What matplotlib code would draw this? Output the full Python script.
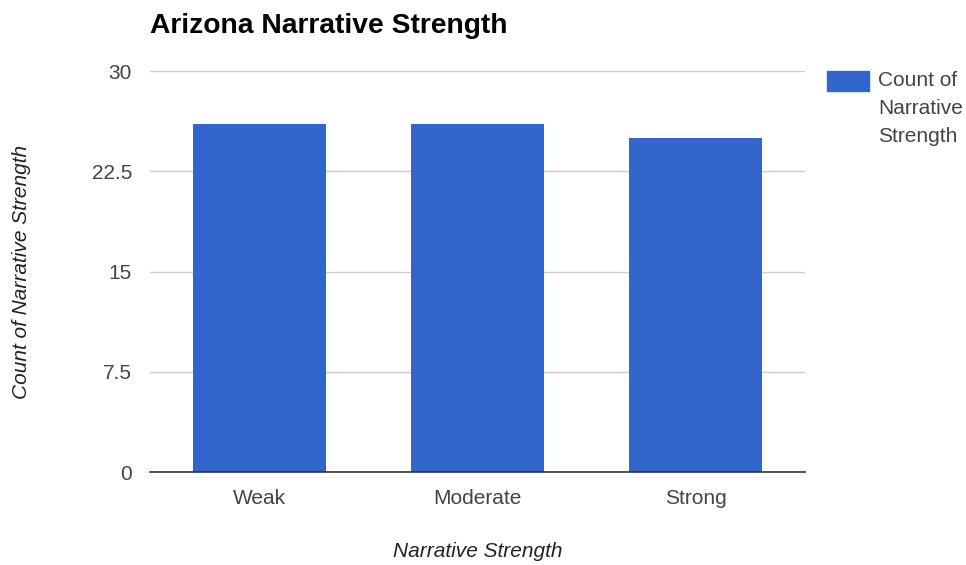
import matplotlib
matplotlib.use("Agg")
import matplotlib.pyplot as plt
import numpy as np

plt.rcParams["font.family"] = ["Liberation Sans", "DejaVu Sans"]

categories = ["Weak", "Moderate", "Strong"]
counts = [26, 26, 25]
y_ticks = [0, 7.5, 15, 22.5, 30]
y_tick_labels = ["0", "7.5", "15", "22.5", "30"]
series_label = "Count of\nNarrative\nStrength"

BAR_COLOR = "#3366CC"
TEXT_COLOR = "#444444"

fig = plt.figure(figsize=(9.66, 5.65), dpi=100)
ax = fig.add_axes([0.1553, 0.1646, 0.6780, 0.7097])

x = np.arange(len(categories))
ax.bar(x, counts, width=0.61, color=BAR_COLOR, zorder=2)

ax.set_xlim(-0.5, len(categories) - 0.5)
ax.set_ylim(0, 30)
ax.set_yticks(y_ticks)
ax.set_yticklabels(y_tick_labels)
ax.set_xticks(x)
ax.set_xticklabels(categories)
ax.tick_params(axis="both", length=0, labelsize=15, labelcolor=TEXT_COLOR)
ax.tick_params(axis="y", pad=13)
ax.tick_params(axis="x", pad=12)

ax.grid(axis="y", color="#CCCCCC", lw=1, zorder=0)
for side in ["top", "right", "left"]:
    ax.spines[side].set_visible(False)
ax.spines["bottom"].set_color("#333333")
ax.spines["bottom"].set_linewidth(1.2)
ax.spines["bottom"].set_zorder(3)

ax.set_xlabel("Narrative Strength", fontsize=15, style="italic",
              color="#222222", va="top")
ax.xaxis.set_label_coords(0.5, -0.175)
ax.set_ylabel("Count of Narrative Strength", fontsize=15, style="italic",
              color="#222222")
ax.yaxis.set_label_coords(-0.182, 0.5)

fig.text(0.1553, 0.9416, "Arizona Narrative Strength", fontsize=20.3,
         fontweight="bold", color="#000000", ha="left", va="baseline")

# legend drawn by hand so the swatch sits beside the first line
fig.patches.append(plt.Rectangle((0.8561, 0.8389), 0.0435, 0.0354,
                                 transform=fig.transFigure,
                                 color=BAR_COLOR))
fig.text(0.9089, 0.874, series_label, fontsize=15, color=TEXT_COLOR,
         ha="left", va="top", linespacing=1.6)

fig.savefig("out.png", dpi=100)
